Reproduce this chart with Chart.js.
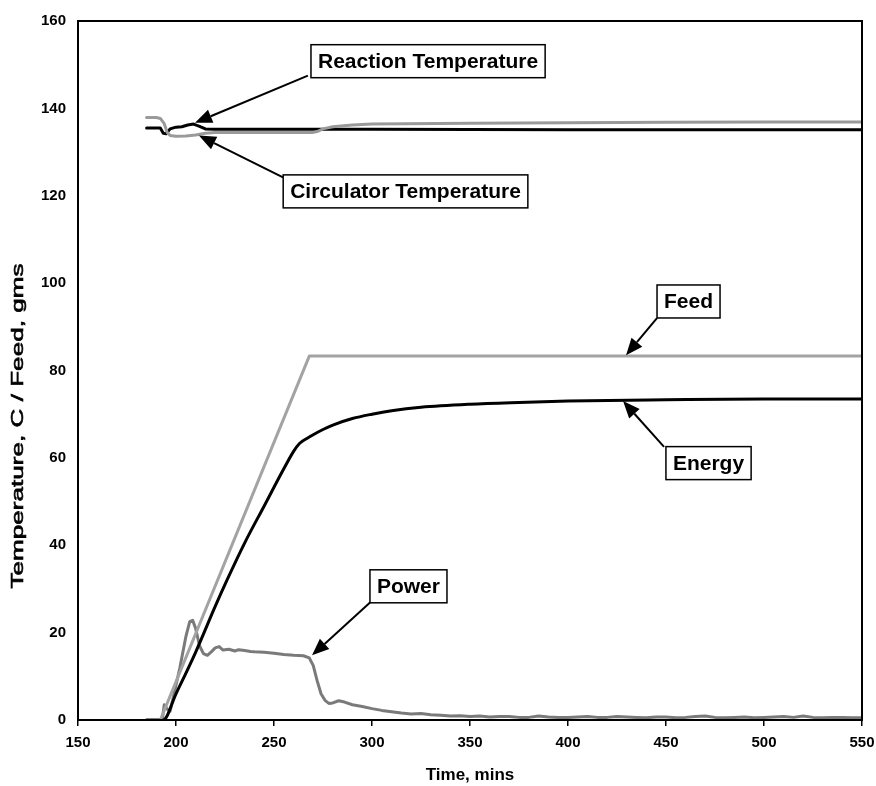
<!DOCTYPE html>
<html>
<head>
<meta charset="utf-8">
<script src="https://cdn.jsdelivr.net/npm/chart.js@4.4.1/dist/chart.umd.min.js"></script>
<style>
  html, body { margin: 0; padding: 0; background: #ffffff; }
  #wrap { width: 876px; height: 786px; }
</style>
</head>
<body>
<div id="wrap"><canvas id="c" width="876" height="786"></canvas></div>
<script>
// ---------------- DATA ----------------
const xTicks = [150, 200, 250, 300, 350, 400, 450, 500, 550];
const yTicks = [0, 20, 40, 60, 80, 100, 120, 140, 160];

const feedTime  = [185, 192, 268, 550];
const feedValue = [0, 0, 83.3, 83.3];

const energyTime  = [185, 193.5, 200, 210, 220, 226, 235, 245, 255, 260, 263, 267, 270, 275, 280, 290, 300, 310, 325, 350, 375, 400, 450, 500, 550];
const energyValue = [0, 0, 6, 15.5, 26, 32, 40.5, 49, 57.5, 61.5, 63.3, 64.5, 65.3, 66.5, 67.5, 69, 70, 70.8, 71.6, 72.3, 72.7, 73, 73.3, 73.5, 73.5];

const powerTime  = [185, 193, 194, 195.5, 197, 199, 202, 205, 207, 208.5, 210, 212, 214, 216, 218, 220, 222, 224, 227, 230, 232, 235, 238, 240, 245, 250, 255, 260, 265, 268, 270, 272, 274, 276, 278, 280, 283, 286, 290, 295, 300, 305, 310, 315, 320, 325, 330, 335, 340, 345, 350, 355, 360, 365, 370, 375, 380, 385, 390, 395, 400, 405, 410, 415, 420, 425, 430, 435, 440, 445, 450, 455, 460, 465, 470, 475, 480, 485, 490, 495, 500, 505, 510, 515, 520, 525, 530, 535, 540, 545, 550];
const powerValue = [0, 0, 3.5, 2.5, 2, 6, 12, 19, 22.5, 22.8, 21, 17, 15.2, 14.8, 15.6, 16.5, 16.8, 16, 16.2, 15.8, 16.1, 15.9, 15.7, 15.6, 15.5, 15.3, 15, 14.8, 14.7, 14.2, 12.5, 9, 6, 4.5, 3.8, 3.9, 4.4, 4.1, 3.5, 3.1, 2.6, 2.2, 1.9, 1.6, 1.4, 1.5, 1.2, 1.1, 0.9, 1.0, 0.8, 0.9, 0.7, 0.8, 0.8, 0.6, 0.6, 0.9, 0.7, 0.6, 0.6, 0.7, 0.8, 0.6, 0.6, 0.8, 0.7, 0.6, 0.5, 0.7, 0.7, 0.5, 0.6, 0.8, 0.9, 0.6, 0.5, 0.6, 0.7, 0.5, 0.6, 0.7, 0.8, 0.6, 0.9, 0.6, 0.5, 0.6, 0.6, 0.5, 0.5];

const circTime  = [185, 190, 192, 194, 195.5, 197, 200, 205, 210, 215, 220, 240, 260, 270, 272, 275, 280, 290, 300, 350, 400, 450, 500, 550];
const circValue = [137.9, 137.9, 137.7, 136.5, 134.5, 133.8, 133.6, 133.7, 133.9, 134.3, 134.5, 134.5, 134.5, 134.5, 134.7, 135.3, 135.8, 136.2, 136.4, 136.6, 136.7, 136.8, 136.9, 136.9];

const reactTime  = [185, 192, 193.5, 195, 197, 200, 203, 206, 209, 212, 215, 220, 260, 300, 400, 550];
const reactValue = [135.5, 135.5, 134.3, 134.2, 135.3, 135.7, 135.8, 136.2, 136.4, 135.9, 135.3, 135.2, 135.2, 135.2, 135.1, 135.1];

// annotation labels: text, box centre (data), arrow start (data), arrow tip (data)
const noteText  = ["Reaction Temperature", "Circulator Temperature", "Feed", "Energy", "Power"];
const noteBox   = [[328.6, 150.8], [317.1, 121.0], [461.5, 95.8], [471.7, 58.8], [318.6, 30.6]];
const noteFrom  = [[267.3, 147.5], [254.6, 124.2], [445.4, 92.0], [449.0, 62.5], [299.0, 26.9]];
const noteTip   = [[209.7, 136.7], [211.7, 133.8], [429.6, 83.5], [428.1, 73.0], [269.4, 14.8]];

const xTitle = "Time, mins";
const yTitle = "Temperature, C / Feed, gms";

// ---------------- CHART ----------------
const FONT = '"Liberation Sans", Arial, Helvetica, sans-serif';
const pts = (t, v) => t.map((x, i) => ({ x: x, y: v[i] }));

const notesPlugin = {
  id: 'notes',
  afterDraw(chart) {
    const ctx = chart.ctx;
    const xs = chart.scales.x, ys = chart.scales.y;
    const a = chart.chartArea;
    ctx.save();
    // frame
    ctx.strokeStyle = '#000';
    ctx.lineWidth = 2;
    ctx.strokeRect(a.left, a.top, a.right - a.left, a.bottom - a.top);

    // y title
    ctx.save();
    ctx.font = '17px ' + FONT;
    const w = ctx.measureText(yTitle).width;
    ctx.translate(18, 426);
    ctx.rotate(-Math.PI / 2);
    ctx.scale(325 / w, 1);
    ctx.fillStyle = '#000';
    ctx.strokeStyle = '#000';
    ctx.lineWidth = 0.6;
    ctx.textAlign = 'center';
    ctx.textBaseline = 'middle';
    ctx.fillText(yTitle, 0, 0);
    ctx.strokeText(yTitle, 0, 0);
    ctx.restore();

    // annotations
    ctx.font = 'bold 21px ' + FONT;
    for (let i = 0; i < noteText.length; i++) {
      const fx = xs.getPixelForValue(noteFrom[i][0]), fy = ys.getPixelForValue(noteFrom[i][1]);
      const tx = xs.getPixelForValue(noteTip[i][0]), ty = ys.getPixelForValue(noteTip[i][1]);
      const ang = Math.atan2(ty - fy, tx - fx);
      const hl = 17, hw = 7;
      const bx = tx - hl * Math.cos(ang), by = ty - hl * Math.sin(ang);
      ctx.strokeStyle = '#000';
      ctx.lineWidth = 2;
      ctx.beginPath();
      ctx.moveTo(fx, fy);
      ctx.lineTo(bx, by);
      ctx.stroke();
      ctx.fillStyle = '#000';
      ctx.beginPath();
      ctx.moveTo(tx, ty);
      ctx.lineTo(bx + hw * Math.sin(ang), by - hw * Math.cos(ang));
      ctx.lineTo(bx - hw * Math.sin(ang), by + hw * Math.cos(ang));
      ctx.closePath();
      ctx.fill();

      const cx = xs.getPixelForValue(noteBox[i][0]), cy = ys.getPixelForValue(noteBox[i][1]);
      const tw = ctx.measureText(noteText[i]).width;
      const bw = tw + 14, bh = 33;
      ctx.fillStyle = '#fff';
      ctx.fillRect(cx - bw / 2, cy - bh / 2, bw, bh);
      ctx.lineWidth = 1.5;
      ctx.strokeRect(cx - bw / 2, cy - bh / 2, bw, bh);
      ctx.fillStyle = '#000';
      ctx.textAlign = 'center';
      ctx.textBaseline = 'middle';
      ctx.fillText(noteText[i], cx, cy + 1);
    }
    ctx.restore();
  }
};

new Chart(document.getElementById('c'), {
  type: 'line',
  data: {
    datasets: [
      { label: 'Feed', data: pts(feedTime, feedValue), borderColor: '#a3a3a3', borderWidth: 3 },
      { label: 'Energy', data: pts(energyTime, energyValue), borderColor: '#000000', borderWidth: 3, cubicInterpolationMode: 'monotone' },
      { label: 'Power', data: pts(powerTime, powerValue), borderColor: '#7a7a7a', borderWidth: 3 },
      { label: 'Circulator Temperature', data: pts(circTime, circValue), borderColor: '#9a9a9a', borderWidth: 3 },
      { label: 'Reaction Temperature', data: pts(reactTime, reactValue), borderColor: '#000000', borderWidth: 3 }
    ]
  },
  options: {
    responsive: false,
    animation: false,
    devicePixelRatio: 1,
    parsing: false,
    elements: { point: { radius: 0 }, line: { tension: 0, borderCapStyle: 'round', borderJoinStyle: 'round' } },
    layout: { padding: { left: 0, right: 0, top: 19, bottom: 0 } },
    plugins: { legend: { display: false }, tooltip: { enabled: false } },
    scales: {
      x: {
        type: 'linear',
        min: xTicks[0], max: xTicks[xTicks.length - 1],
        afterBuildTicks: s => { s.ticks = xTicks.map(v => ({ value: v })); },
        afterFit: s => { s.height = 66; s.paddingRight = 14; s.paddingLeft = 0; },
        grid: { drawOnChartArea: false, drawTicks: true, tickLength: 6, color: '#000', lineWidth: 1.5 },
        border: { display: true, color: '#000', width: 2 },
        ticks: { color: '#000', font: { family: FONT, size: 15, weight: 'bold' }, padding: 8, maxRotation: 0 },
        title: { display: true, text: xTitle, color: '#000', font: { family: FONT, size: 17, weight: 'bold' }, padding: { top: 11, bottom: 0 } }
      },
      y: {
        type: 'linear',
        min: yTicks[0], max: yTicks[yTicks.length - 1],
        afterBuildTicks: s => { s.ticks = yTicks.map(v => ({ value: v })); },
        afterFit: s => { s.width = 78; },
        grid: { display: false, drawTicks: false },
        border: { display: true, color: '#000', width: 2 },
        ticks: { color: '#000', font: { family: FONT, size: 15, weight: 'bold' }, padding: 12 }
      }
    }
  },
  plugins: [notesPlugin]
});
</script>
</body>
</html>
